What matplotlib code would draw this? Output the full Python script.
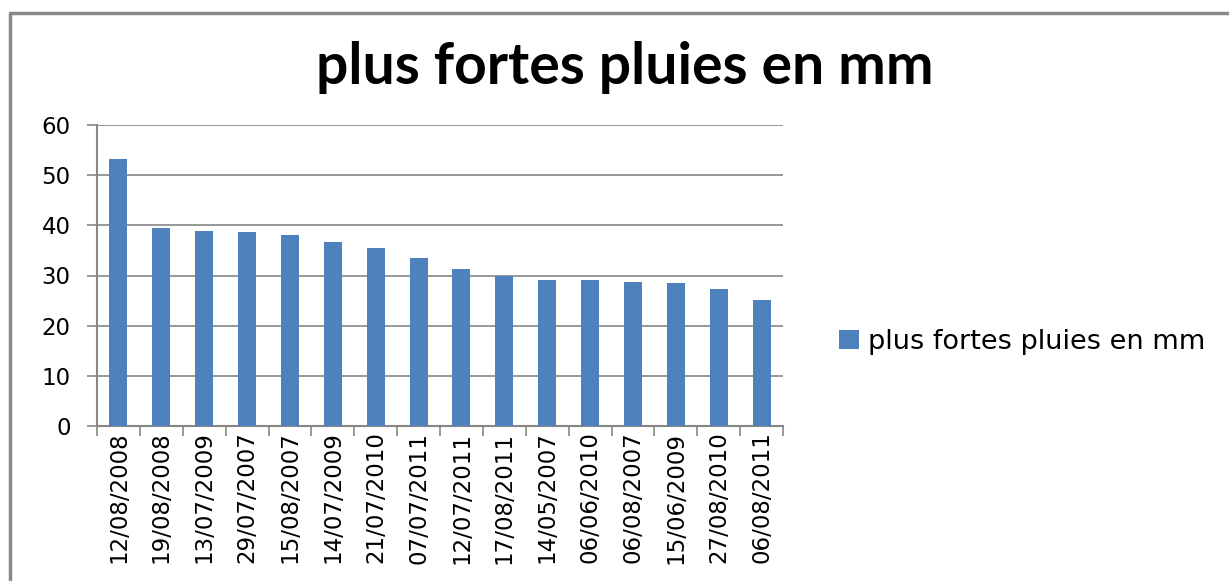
import matplotlib.pyplot as plt
from matplotlib.lines import Line2D

# data
dates = ["12/08/2008", "19/08/2008", "13/07/2009", "29/07/2007", "15/08/2007",
         "14/07/2009", "21/07/2010", "07/07/2011", "12/07/2011", "17/08/2011",
         "14/05/2007", "06/06/2010", "06/08/2007", "15/06/2009", "27/08/2010",
         "06/08/2011"]
pluie_mm = [53.2, 39.5, 38.9, 38.7, 38.1, 36.7, 35.5, 33.5, 31.3, 29.9,
            29.1, 29.1, 28.7, 28.5, 27.3, 25.1]
yticks = [0, 10, 20, 30, 40, 50, 60]

bar_color = "#4F81BD"
grey = "#868686"

fig = plt.figure(figsize=(12.29, 5.81), dpi=100)
ax = fig.add_axes([97 / 1229, 1 - 426 / 581, (783 - 97) / 1229, (426 - 125) / 581])

x = list(range(len(dates)))
ax.bar(x, pluie_mm, width=0.42, color=bar_color, label="plus fortes pluies en mm", zorder=3)

ax.set_xlim(-0.5, len(dates) - 0.5)
ax.set_ylim(0, 60)
ax.set_yticks(yticks)
ax.yaxis.grid(True, color=grey, linewidth=1.2, zorder=0)

ax.set_xticks(x)
ax.set_xticklabels(dates, rotation=90, fontsize=16.5, family="DejaVu Sans")
ax.set_xticks([i - 0.5 for i in range(len(dates) + 1)], minor=True)
ax.tick_params(axis="x", which="major", length=0, pad=4)
ax.tick_params(axis="x", which="minor", length=7, width=1.2, color=grey)
ax.tick_params(axis="y", length=7, width=1.2, color=grey, pad=12, labelsize=16.5)

for side in ["top", "right"]:
    ax.spines[side].set_visible(False)
for side in ["left", "bottom"]:
    ax.spines[side].set_color(grey)
    ax.spines[side].set_linewidth(1.5)

fig.text(625 / 1229, 1 - 67 / 581, "plus fortes pluies en mm", ha="center", va="center",
         fontsize=41, fontweight="bold", family="Lato")

fig.legend(loc="center left", bbox_to_anchor=(825 / 1229, 1 - 342 / 581), frameon=False,
           fontsize=19.5, handlelength=0.75, handleheight=0.7, handletextpad=0.35, borderpad=0)

# chart frame (top and left edges visible)
fig.add_artist(Line2D([10 / 1229, 10 / 1229, 1.0], [0.0, 1 - 13 / 581, 1 - 13 / 581],
                      transform=fig.transFigure, color="#888888", linewidth=2.5))

fig.savefig("out.png", dpi=100)
